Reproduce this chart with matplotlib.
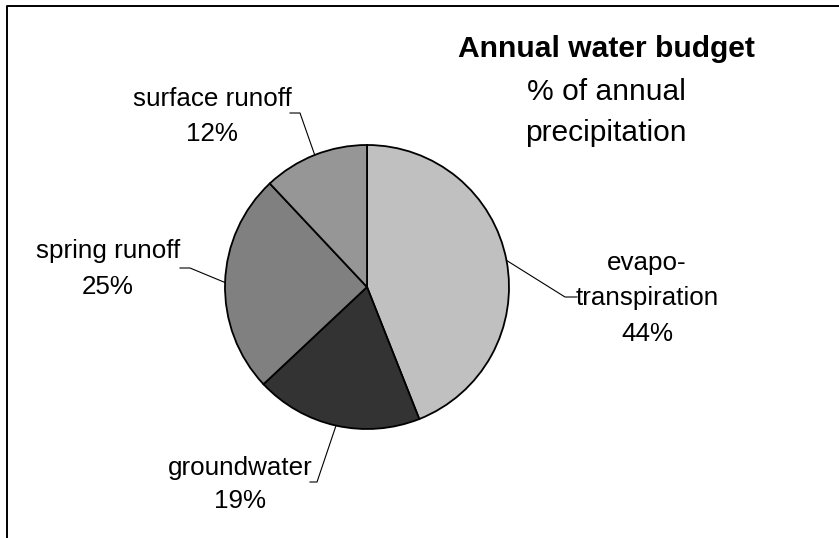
import matplotlib.pyplot as plt
import numpy as np

plt.rcParams['font.family'] = ['Liberation Sans', 'DejaVu Sans']

# data
names = ['evapo-\ntranspiration', 'groundwater', 'spring runoff', 'surface runoff']
shares = [44, 19, 25, 12]
greys = ['#c0c0c0', '#333333', '#808080', '#969696']

title = 'Annual water budget'
subtitle = ['% of annual', 'precipitation']

W, H = 839, 538
fig = plt.figure(figsize=(W / 100, H / 100), dpi=100)
ax = fig.add_axes([0, 0, 1, 1])

def py(y):
    # pixel row (from top) -> data y
    return H - y

cx, cy, rad = 367, py(287), 142
wedges, _ = ax.pie(shares, colors=greys, startangle=90, counterclock=False,
                   center=(cx, cy), radius=rad,
                   wedgeprops=dict(edgecolor='black', linewidth=1.3))
ax.set_xlim(0, W)
ax.set_ylim(0, H)
ax.set_aspect('equal')
ax.axis('off')

# frame (only top and left edges visible)
ax.plot([7, 7, W + 5], [-5, py(6), py(6)], color='black', lw=1.4,
        solid_capstyle='butt', clip_on=False)

fs = 18.7
# label text: x centre, baselines (pixels), leader line elbow points
label_pos = {
    'evapo-\ntranspiration': (647, [270, 305, 341], [(565, 297), (577, 297)]),
    'groundwater': (240, [475, 508], [(317, 482), (310, 482)]),
    'spring runoff': (108, [258, 294], [(190, 268), (180, 268)]),
    'surface runoff': (212, [106, 141], [(300, 113), (290, 113)]),
}

for w, name, val in zip(wedges, names, shares):
    x0, lines_y, elbow = label_pos[name]
    txt = name.split('\n') + ['%d%%' % val]
    for t, yb in zip(txt, lines_y):
        ax.text(x0, py(yb), t, ha='center', va='baseline', fontsize=fs)
    mid = np.deg2rad((w.theta1 + w.theta2) / 2)
    ax_ = cx + rad * np.cos(mid)
    ay_ = cy + rad * np.sin(mid)
    xs = [ax_] + [p[0] for p in elbow]
    ys = [ay_] + [py(p[1]) for p in elbow]
    ax.plot(xs, ys, color='black', lw=0.8)

ax.text(606, py(57), title, ha='center', va='baseline', fontsize=21.6,
        fontweight='bold')
for t, yb in zip(subtitle, [100, 141]):
    ax.text(606, py(yb), t, ha='center', va='baseline', fontsize=21.6)

fig.savefig('out.png', dpi=100)
